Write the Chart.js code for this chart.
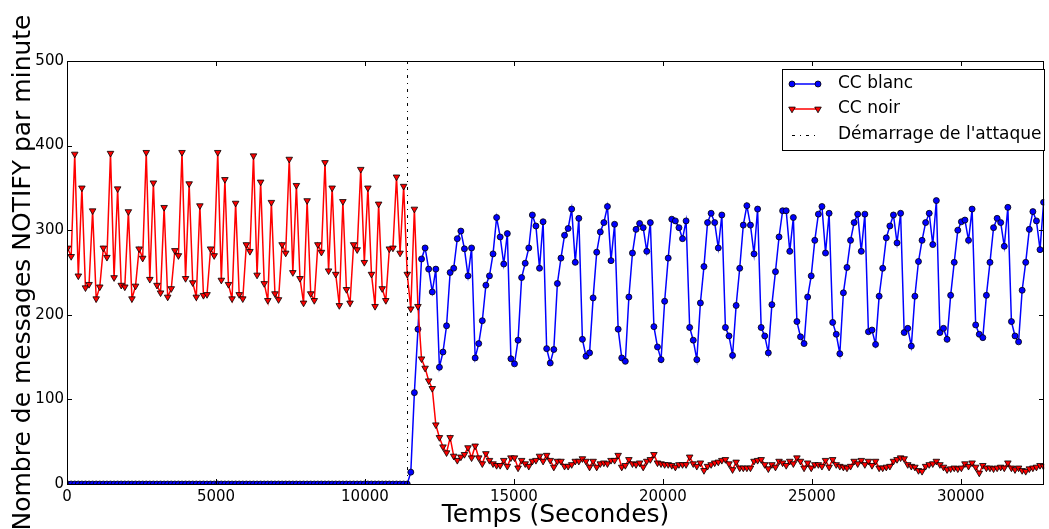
<!DOCTYPE html>
<html>
<head>
<meta charset="utf-8">
<script src="https://cdn.jsdelivr.net/npm/chart.js@4/dist/chart.umd.min.js"></script>
<style>
html,body{margin:0;padding:0;background:#ffffff;}
#wrap{width:1049px;height:529px;position:relative;}
</style>
</head>
<body>
<div id="wrap"><canvas id="c" width="1049" height="529"></canvas></div>
<script>
// ---- data (one sample every 120 s) ----
const SAMPLE_STEP = 120;      // seconds between samples
const FIRST_SAMPLE = 20;      // time of first sample (s)
const ATTACK_TIME = 11430;    // start of the attack (s)

const ccNoir = [
  279, 269, 390, 246, 350, 232, 236, 323, 219, 233,
  279, 268, 391, 244, 349, 235, 233, 322, 219, 234,
  278, 267, 392, 242, 356, 235, 226, 327, 221, 231,
  276, 270, 392, 243, 355, 238, 221, 329, 223, 224,
  278, 270, 392, 241, 360, 236, 219, 332, 224, 219,
  283, 275, 388, 247, 357, 237, 217, 333, 225, 218,
  283, 273, 384, 250, 353, 243, 214, 335, 225, 217,
  283, 274, 380, 252, 350, 248, 211, 334, 230, 214,
  283, 277, 372, 262, 350, 248, 210, 331, 231, 217,
  278, 279, 363, 273, 352, 248, 207, 325, 210, 148,
  137, 122, 113, 70, 55, 44, 37, 55, 33, 28,
  32, 35, 43, 31, 45, 31, 24, 36, 28, 24,
  22, 22, 28, 21, 31, 31, 19, 28, 24, 21,
  27, 28, 33, 27, 34, 28, 20, 27, 27, 21,
  21, 23, 27, 27, 30, 27, 20, 27, 20, 24,
  25, 24, 28, 28, 34, 20, 22, 29, 24, 23,
  25, 20, 27, 29, 35, 25, 24, 23, 23, 22,
  20, 23, 23, 23, 32, 24, 21, 25, 16, 21,
  23, 25, 26, 28, 29, 24, 17, 26, 19, 19,
  19, 19, 27, 28, 29, 23, 18, 23, 20, 27,
  25, 22, 27, 24, 31, 27, 19, 25, 19, 23,
  23, 21, 28, 20, 29, 23, 21, 20, 19, 21,
  27, 24, 28, 23, 27, 22, 27, 19, 19, 20,
  21, 27, 29, 31, 30, 23, 21, 20, 16, 15,
  21, 23, 24, 27, 23, 20, 17, 18, 19, 18,
  19, 24, 21, 25, 20, 13, 22, 19, 19, 18,
  19, 20, 19, 25, 19, 17, 19, 16, 15, 18,
  19, 20, 22, 21
];

const ccBlanc = [
  0, 0, 0, 0, 0, 0, 0, 0, 0, 0,
  0, 0, 0, 0, 0, 0, 0, 0, 0, 0,
  0, 0, 0, 0, 0, 0, 0, 0, 0, 0,
  0, 0, 0, 0, 0, 0, 0, 0, 0, 0,
  0, 0, 0, 0, 0, 0, 0, 0, 0, 0,
  0, 0, 0, 0, 0, 0, 0, 0, 0, 0,
  0, 0, 0, 0, 0, 0, 0, 0, 0, 0,
  0, 0, 0, 0, 0, 0, 0, 0, 0, 0,
  0, 0, 0, 0, 0, 0, 0, 0, 0, 0,
  0, 0, 0, 0, 0, 0, 14, 108, 183, 266,
  279, 254, 227, 254, 138, 156, 187, 250, 255, 290,
  299, 278, 246, 279, 149, 166, 193, 235, 246, 272,
  315, 292, 260, 296, 148, 142, 170, 244, 261, 279,
  318, 305, 255, 310, 160, 143, 159, 237, 267, 294,
  302, 325, 262, 314, 171, 151, 155, 220, 274, 298,
  309, 328, 264, 307, 183, 149, 145, 221, 273, 301,
  308, 303, 275, 309, 186, 162, 147, 216, 267, 313,
  311, 303, 290, 311, 185, 170, 147, 214, 257, 309,
  320, 309, 279, 318, 185, 175, 152, 211, 255, 306,
  329, 306, 272, 325, 185, 175, 155, 212, 251, 292,
  323, 323, 275, 315, 192, 174, 166, 221, 246, 288,
  319, 328, 273, 320, 191, 177, 154, 226, 256, 288,
  309, 319, 275, 319, 180, 182, 165, 222, 255, 291,
  305, 318, 285, 320, 179, 184, 163, 222, 263, 288,
  309, 320, 283, 335, 179, 184, 171, 223, 262, 300,
  310, 312, 288, 325, 188, 177, 173, 223, 262, 303,
  314, 309, 281, 327, 192, 175, 168, 229, 262, 301,
  322, 311, 277, 333
];

const xTickValues = [0, 5000, 10000, 15000, 20000, 25000, 30000];
const yTickValues = [0, 100, 200, 300, 400, 500];
const X_MAX = 32800;
const Y_MAX = 500;

const seriesLabels = ['CC blanc', 'CC noir', "Démarrage de l'attaque"];
const xTitle = 'Temps (Secondes)';
const yTitle = 'Nombre de messages NOTIFY par minute';

// ---- build tables for the library ----
function toPoints(values) {
  return values.map((v, i) => ({ x: FIRST_SAMPLE + i * SAMPLE_STEP, y: v }));
}
const blueData = toPoints(ccBlanc);
const redData = toPoints(ccNoir);
const attackData = [{ x: ATTACK_TIME, y: 0 }, { x: ATTACK_TIME, y: Y_MAX }];

const FONT = "'DejaVu Sans', 'Bitstream Vera Sans', sans-serif";
const BLUE = '#0000ff';
const RED = '#ff0000';

// frame, inward ticks and legend
const framePlugin = {
  id: 'frame',
  afterDraw(chart) {
    const ctx = chart.ctx;
    const a = chart.chartArea;
    const xs = chart.scales.x, ys = chart.scales.y;
    const L = Math.round(a.left), R = Math.round(a.right), T = Math.round(a.top), B = Math.round(a.bottom);
    ctx.save();
    ctx.strokeStyle = '#000';
    ctx.lineWidth = 1;
    ctx.setLineDash([]);
    ctx.strokeRect(L + 0.5, T + 0.5, R - L - 1, B - T);
    const TL = 5;
    ctx.beginPath();
    xTickValues.forEach(v => {
      const px = Math.round(xs.getPixelForValue(v)) + 0.5;
      ctx.moveTo(px, B); ctx.lineTo(px, B - TL);
      ctx.moveTo(px, T); ctx.lineTo(px, T + TL);
    });
    yTickValues.forEach(v => {
      const py = Math.round(ys.getPixelForValue(v)) + 0.5;
      ctx.moveTo(L, py); ctx.lineTo(L + TL, py);
      ctx.moveTo(R, py); ctx.lineTo(R - TL, py);
    });
    ctx.stroke();

    // legend
    const bx = 782.5, by = 69.5, bw = 262, bh = 81;
    ctx.fillStyle = '#fff';
    ctx.fillRect(bx, by, bw, bh);
    ctx.strokeRect(bx, by, bw, bh);
    const rows = [84, 109, 135];
    const x1 = 792, x2 = 818;
    // blue
    ctx.strokeStyle = BLUE; ctx.lineWidth = 1.5;
    ctx.beginPath(); ctx.moveTo(x1, rows[0]); ctx.lineTo(x2, rows[0]); ctx.stroke();
    [x1, x2].forEach(x => {
      ctx.beginPath(); ctx.arc(x, rows[0], 3, 0, Math.PI * 2);
      ctx.fillStyle = BLUE; ctx.fill();
      ctx.strokeStyle = '#000'; ctx.lineWidth = 0.8; ctx.stroke();
    });
    // red
    ctx.strokeStyle = RED; ctx.lineWidth = 1.5;
    ctx.beginPath(); ctx.moveTo(x1, rows[1]); ctx.lineTo(x2, rows[1]); ctx.stroke();
    [x1, x2].forEach(x => {
      const r = 3.8, y = rows[1];
      ctx.beginPath();
      ctx.moveTo(x, y + r);
      ctx.lineTo(x - r * 0.866, y - r * 0.5);
      ctx.lineTo(x + r * 0.866, y - r * 0.5);
      ctx.closePath();
      ctx.fillStyle = RED; ctx.fill();
      ctx.strokeStyle = '#000'; ctx.lineWidth = 0.8; ctx.stroke();
    });
    // dash-dot
    ctx.strokeStyle = '#000'; ctx.lineWidth = 1;
    ctx.setLineDash([3, 5, 1, 5]);
    ctx.beginPath(); ctx.moveTo(x1, rows[2] + 0.5); ctx.lineTo(x2, rows[2] + 0.5); ctx.stroke();
    ctx.setLineDash([]);
    // texts
    ctx.fillStyle = '#000';
    ctx.font = '17px ' + FONT;
    ctx.textAlign = 'left';
    ctx.textBaseline = 'middle';
    seriesLabels.forEach((t, i) => ctx.fillText(t, 838, rows[i]));
    ctx.restore();
  }
};

new Chart(document.getElementById('c').getContext('2d'), {
  type: 'line',
  data: {
    datasets: [
      {
        label: seriesLabels[0], data: blueData,
        borderColor: BLUE, borderWidth: 1.5, tension: 0, fill: false,
        pointStyle: 'circle', pointRadius: 3, pointBackgroundColor: BLUE,
        pointBorderColor: '#000', pointBorderWidth: 0.8, order: 2
      },
      {
        label: seriesLabels[1], data: redData,
        borderColor: RED, borderWidth: 1.5, tension: 0, fill: false,
        pointStyle: 'triangle', pointRotation: 180, pointRadius: 3.8,
        pointBackgroundColor: RED, pointBorderColor: '#000', pointBorderWidth: 0.8, order: 1
      },
      {
        label: seriesLabels[2], data: attackData,
        borderColor: '#000', borderWidth: 1, borderDash: [3, 5, 1, 5],
        pointRadius: 0, fill: false, order: 0
      }
    ]
  },
  options: {
    responsive: false,
    animation: false,
    devicePixelRatio: 1,
    layout: { padding: { top: 61, right: 1, bottom: 0, left: 0 } },
    plugins: { legend: { display: false }, tooltip: { enabled: false } },
    scales: {
      x: {
        type: 'linear', min: 0, max: X_MAX,
        afterFit(s) { s.height = 45; },
        afterBuildTicks(s) { s.ticks = xTickValues.map(v => ({ value: v })); },
        grid: { display: false, drawTicks: false },
        border: { display: false },
        ticks: { font: { family: FONT, size: 15 }, color: '#000', padding: 4, maxRotation: 0, autoSkip: false,
                 callback: v => String(v) },
        title: { display: true, text: xTitle, color: '#000', font: { family: FONT, size: 25, lineHeight: 1.1 }, padding: { top: 0, bottom: 0 } }
      },
      y: {
        type: 'linear', min: 0, max: Y_MAX,
        afterFit(s) { s.width = 67; },
        afterBuildTicks(s) { s.ticks = yTickValues.map(v => ({ value: v })); },
        grid: { display: false, drawTicks: false },
        border: { display: false },
        ticks: { font: { family: FONT, size: 15 }, color: '#000', padding: 3, autoSkip: false,
                 callback: v => String(v) },
        title: { display: true, text: yTitle, color: '#000', font: { family: FONT, size: 25, lineHeight: 1.2 }, padding: { top: 8, bottom: 0 } }
      }
    }
  },
  plugins: [framePlugin]
});
</script>
</body>
</html>
